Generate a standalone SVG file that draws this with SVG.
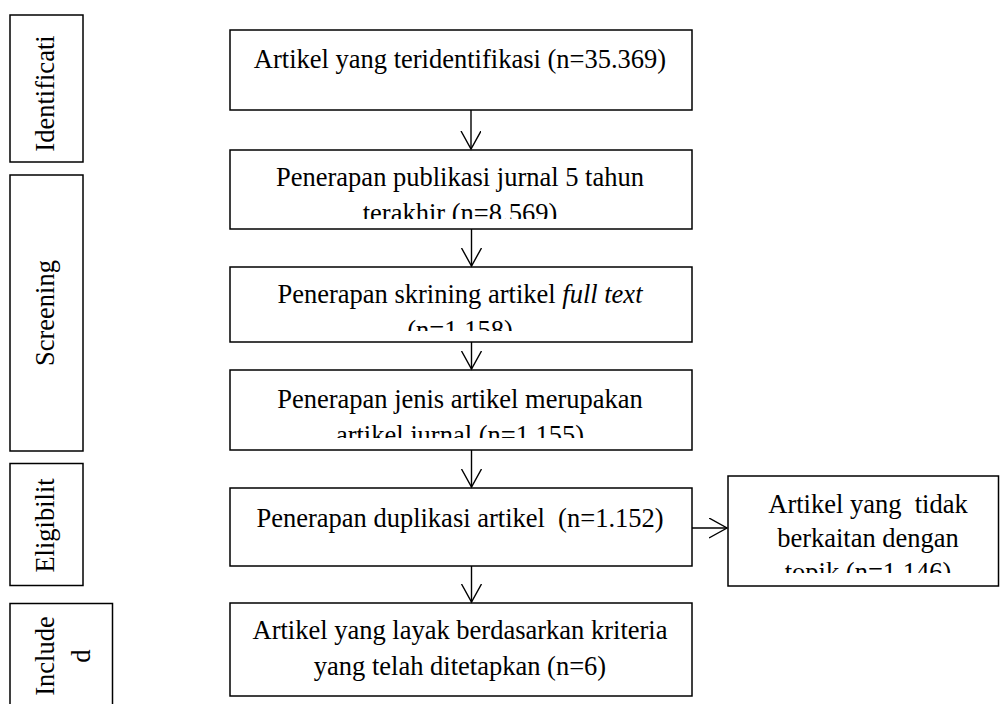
<svg xmlns="http://www.w3.org/2000/svg" width="1001" height="704" viewBox="0 0 1001 704">
<style>
  .box { fill: #fff; stroke: #000; stroke-width: 1.5; }
  .t { font-family: "Liberation Serif", "Times New Roman", serif; font-size: 26.5px; fill: #000; text-anchor: middle; white-space: pre; }
  .edge { fill: none; stroke: #000; stroke-width: 1.4; }
</style>
<defs>
  <marker id="arr" markerUnits="userSpaceOnUse" markerWidth="24" markerHeight="24" refX="18" refY="10" orient="auto" viewBox="0 0 24 24">
    <path d="M0,0 L18,10 L0,20" fill="none" stroke="#000" stroke-width="1.4"/>
  </marker>
  <clipPath id="c2"><rect x="230" y="150" width="462" height="69"/></clipPath>
  <clipPath id="c3"><rect x="230" y="267" width="462" height="64"/></clipPath>
  <clipPath id="c4"><rect x="230" y="370" width="462" height="68"/></clipPath>
  <clipPath id="c7"><rect x="728" y="476" width="271" height="97"/></clipPath>
</defs>
<rect width="1001" height="704" fill="#fff"/>

<g id="label-identification">
  <rect class="box" x="10" y="15" width="73" height="147"/>
  <text class="t" transform="translate(54,93.5) rotate(-90)">Identificati</text>
</g>
<g id="label-screening">
  <rect class="box" x="10" y="175" width="73" height="276"/>
  <text class="t" transform="translate(54,313) rotate(-90)">Screening</text>
</g>
<g id="label-eligibility">
  <rect class="box" x="10" y="463.5" width="73" height="122"/>
  <text class="t" transform="translate(54,525.5) rotate(-90)">Eligibilit</text>
</g>
<g id="label-included">
  <rect class="box" x="10" y="603.5" width="102.5" height="110"/>
  <text class="t" transform="translate(54,656) rotate(-90)">Include</text>
  <text class="t" transform="translate(90,656) rotate(-90)">d</text>
</g>

<g id="n1">
  <rect class="box" x="230" y="30" width="462" height="80"/>
  <text class="t" x="460" y="68">Artikel yang teridentifikasi (n=35.369)</text>
</g>
<g id="n2">
  <rect class="box" x="230" y="150" width="462" height="79"/>
  <g clip-path="url(#c2)">
    <text class="t" x="460" y="186">Penerapan publikasi jurnal 5 tahun</text>
    <text class="t" x="460" y="222">terakhir (n=8.569)</text>
  </g>
</g>
<g id="n3">
  <rect class="box" x="230" y="267" width="462" height="75"/>
  <g clip-path="url(#c3)">
    <text class="t" x="460" y="303">Penerapan skrining artikel <tspan font-style="italic">full text</tspan></text>
    <text class="t" x="460" y="339">(n=1.158)</text>
  </g>
</g>
<g id="n4">
  <rect class="box" x="230" y="370" width="462" height="80"/>
  <g clip-path="url(#c4)">
    <text class="t" x="460" y="408">Penerapan jenis artikel merupakan</text>
    <text class="t" x="460" y="444">artikel jurnal (n=1.155)</text>
  </g>
</g>
<g id="n5">
  <rect class="box" x="230" y="488" width="462" height="78"/>
  <text class="t" x="460" y="527">Penerapan duplikasi artikel  (n=1.152)</text>
</g>
<g id="n6">
  <rect class="box" x="230" y="603" width="462" height="93"/>
  <text class="t" x="460" y="639">Artikel yang layak berdasarkan kriteria</text>
  <text class="t" x="460" y="675">yang telah ditetapkan (n=6)</text>
</g>
<g id="n7">
  <rect class="box" x="728" y="476" width="270.5" height="110"/>
  <g clip-path="url(#c7)">
    <text class="t" x="868" y="513">Artikel yang  tidak</text>
    <text class="t" x="868" y="547">berkaitan dengan</text>
    <text class="t" x="868" y="581">topik (n=1.146)</text>
  </g>
</g>

<g id="connectors">
  <line class="edge" x1="471" y1="110" x2="471" y2="149" marker-end="url(#arr)"/>
  <line class="edge" x1="471.5" y1="229" x2="471.5" y2="266" marker-end="url(#arr)"/>
  <line class="edge" x1="471.5" y1="342" x2="471.5" y2="369" marker-end="url(#arr)"/>
  <line class="edge" x1="471.5" y1="450" x2="471.5" y2="487" marker-end="url(#arr)"/>
  <line class="edge" x1="471.5" y1="566" x2="471.5" y2="602" marker-end="url(#arr)"/>
  <line class="edge" x1="692" y1="528" x2="727" y2="528" marker-end="url(#arr)"/>
</g>
</svg>
